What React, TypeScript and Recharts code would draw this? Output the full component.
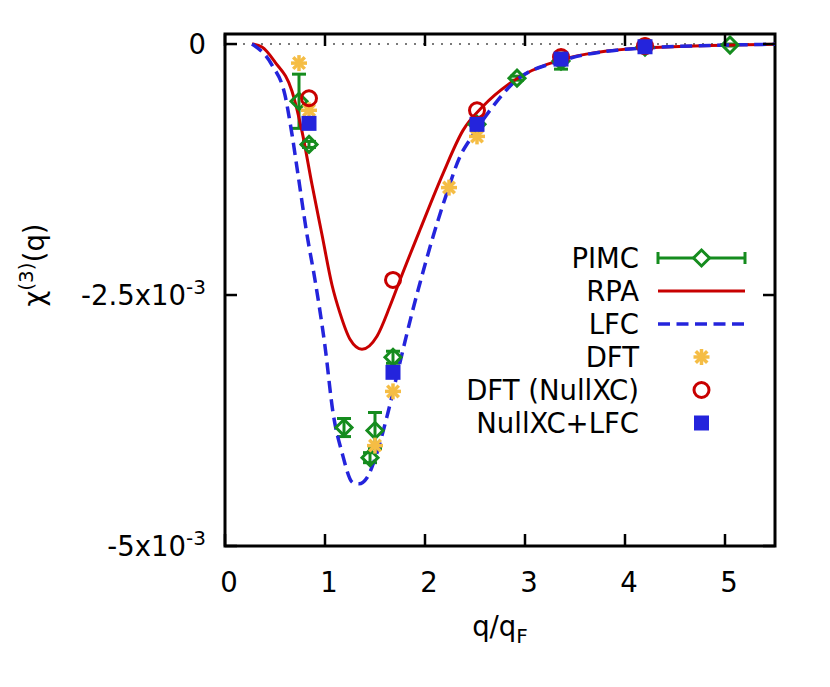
import React from 'react';
import {
  ComposedChart,
  Line,
  Scatter,
  XAxis,
  YAxis,
  ErrorBar,
  ReferenceLine,
  ReferenceArea,
  Legend,
} from 'recharts';

// chi^(3)(q) values are read in units of 1e-3, q in units of q_F
const RPA_Q = [0.27, 0.37, 0.5, 0.67, 0.77, 0.87, 0.97, 1.07, 1.15, 1.25, 1.37, 1.52, 1.65, 1.75, 1.95, 2.18, 2.38, 2.58, 2.85, 3.35, 4.18, 5.5];
const RPA_CHI = [0, -0.03, -0.18, -0.47, -0.87, -1.4, -1.9, -2.4, -2.68, -2.94, -3.04, -2.91, -2.61, -2.35, -1.85, -1.29, -0.86, -0.62, -0.39, -0.16, -0.04, -0.002];

const LFC_Q = [0.27, 0.47, 0.6, 0.67, 0.73, 0.82, 0.9, 1.0, 1.08, 1.17, 1.28, 1.34, 1.42, 1.52, 1.63, 1.75, 1.87, 1.95, 2.08, 2.22, 2.35, 2.45, 2.65, 2.88, 3.35, 4.18, 5.5];
const LFC_CHI = [0, -0.21, -0.51, -0.9, -1.3, -1.9, -2.35, -3.01, -3.67, -4.07, -4.37, -4.38, -4.32, -4.07, -3.67, -3.17, -2.68, -2.38, -1.92, -1.48, -1.12, -0.95, -0.66, -0.39, -0.17, -0.04, -0.002];

const PIMC_Q = [0.74, 0.84, 1.19, 1.45, 1.5, 1.68, 2.52, 2.92, 3.36, 4.2, 5.05];
const PIMC_CHI = [-0.57, -1.0, -3.82, -4.12, -3.85, -3.12, -0.8, -0.34, -0.17, -0.03, -0.01];
const PIMC_ERR = [0.27, 0.03, 0.09, 0.05, 0.18, 0.06, 0.03, 0.02, 0.08, 0.02, 0.01];

const DFT_Q = [0.74, 0.84, 1.5, 1.68, 2.24, 2.52, 3.36, 4.2];
const DFT_CHI = [-0.19, -0.66, -4.0, -3.46, -1.43, -0.92, -0.13, -0.01];

const NULLXC_Q = [0.84, 1.68, 2.52, 3.36, 4.2];
const NULLXC_CHI = [-0.54, -2.35, -0.66, -0.13, -0.02];

const NULLXC_LFC_Q = [0.84, 1.68, 2.52, 3.36, 4.2];
const NULLXC_LFC_CHI = [-0.79, -3.27, -0.8, -0.15, -0.027];

const X_TICKS = [0, 1, 2, 3, 4, 5];
const Y_TICKS = [0, -0.0025, -0.005];
const Y_TICK_LABELS = [['0', ''], ['-2.5x10', '-3'], ['-5x10', '-3']];

const SCALE = 1e-3;
const rows = (q: number[], v: number[], err?: number[]) =>
  q.map((x, i) => ({ q: x, v: v[i] * SCALE, err: err ? err[i] * SCALE : 0 }));

const W = 830;
const H = 687;
const PLOT = { left: 225, right: 775, top: 34, bottom: 546 };
const FONT = '"DejaVu Sans", Verdana, sans-serif';
const FS = 27.5;
const TICK_LEN = 12;

const GREEN = '#158c1e';
const RED = '#c80000';
const BLUE = '#2424dc';
const ORANGE = '#f5bd45';

const Diamond = ({ cx, cy }: any) => (
  <path
    d={`M${cx},${cy - 8} L${cx + 8},${cy} L${cx},${cy + 8} L${cx - 8},${cy} Z`}
    fill="none"
    stroke={GREEN}
    strokeWidth={3}
  />
);

const Star = ({ cx, cy }: any) => {
  const r = 8;
  const d = r * 0.72;
  return (
    <g stroke={ORANGE} strokeWidth={3.5}>
      <line x1={cx - r} y1={cy} x2={cx + r} y2={cy} />
      <line x1={cx} y1={cy - r} x2={cx} y2={cy + r} />
      <line x1={cx - d} y1={cy - d} x2={cx + d} y2={cy + d} />
      <line x1={cx - d} y1={cy + d} x2={cx + d} y2={cy - d} />
    </g>
  );
};

const Circle = ({ cx, cy }: any) => (
  <circle cx={cx} cy={cy} r={7.5} fill="none" stroke={RED} strokeWidth={3} />
);

const Square = ({ cx, cy }: any) => (
  <rect x={cx - 7.5} y={cy - 7.5} width={15} height={15} fill={BLUE} />
);

const XTick = ({ x, payload }: any) => (
  <g>
    <line x1={x} y1={PLOT.bottom} x2={x} y2={PLOT.bottom - TICK_LEN} stroke="#000" strokeWidth={2.5} />
    <line x1={x} y1={PLOT.top} x2={x} y2={PLOT.top + TICK_LEN} stroke="#000" strokeWidth={2.5} />
    <text x={x + 4} y={592} textAnchor="middle" fontFamily={FONT} fontSize={FS} fill="#000">
      {payload.value}
    </text>
  </g>
);

const YTick = ({ y, payload }: any) => {
  const idx = Y_TICKS.indexOf(payload.value);
  const [base, sup] = Y_TICK_LABELS[idx] || [String(payload.value), ''];
  return (
    <g>
      <line x1={PLOT.left} y1={y} x2={PLOT.left + TICK_LEN} y2={y} stroke="#000" strokeWidth={2.5} />
      <line x1={PLOT.right} y1={y} x2={PLOT.right - TICK_LEN} y2={y} stroke="#000" strokeWidth={2.5} />
      <text x={206} y={y + 10} textAnchor="end" fontFamily={FONT} fontSize={FS} fill="#000">
        <tspan>{base}</tspan>
        {sup && (
          <tspan dy={-11} fontSize={20}>
            {sup}
          </tspan>
        )}
      </text>
    </g>
  );
};

const XTitle = () => (
  <text x={500} y={636} textAnchor="middle" fontFamily={FONT} fontSize={FS} fill="#000">
    <tspan>q/q</tspan>
    <tspan dy={7} fontSize={20}>F</tspan>
  </text>
);

const YTitle = () => (
  <text
    transform="translate(44, 265) rotate(-90)"
    textAnchor="middle"
    fontFamily={FONT}
    fontSize={FS}
    fill="#000"
  >
    <tspan>χ</tspan>
    <tspan dy={-11} fontSize={20}>(3)</tspan>
    <tspan dy={11}>(q)</tspan>
  </text>
);

const LEGEND_ITEMS = ['PIMC', 'RPA', 'LFC', 'DFT', 'DFT (NullXC)', 'NullXC+LFC'];
const LEG = { left: 440, top: 235, textRight: 199, symL: 218, symR: 305, row0: 23, rowH: 33 };

const LegendSymbol = ({ i, y }: { i: number; y: number }) => {
  const mid = (LEG.symL + LEG.symR) / 2;
  switch (i) {
    case 0:
      return (
        <g stroke={GREEN} strokeWidth={3}>
          <line x1={LEG.symL} y1={y} x2={LEG.symR} y2={y} />
          <line x1={LEG.symL} y1={y - 6} x2={LEG.symL} y2={y + 6} />
          <line x1={LEG.symR} y1={y - 6} x2={LEG.symR} y2={y + 6} />
          <path d={`M${mid},${y - 8} L${mid + 8},${y} L${mid},${y + 8} L${mid - 8},${y} Z`} fill="#fff" />
        </g>
      );
    case 1:
      return <line x1={LEG.symL} y1={y} x2={LEG.symR} y2={y} stroke={RED} strokeWidth={3} />;
    case 2:
      return (
        <line x1={LEG.symL} y1={y} x2={LEG.symR} y2={y} stroke={BLUE} strokeWidth={3.5} strokeDasharray="12 6.5" />
      );
    case 3:
      return <Star cx={mid} cy={y} />;
    case 4:
      return <Circle cx={mid} cy={y} />;
    default:
      return <Square cx={mid} cy={y} />;
  }
};

const LegendBox = () => (
  <svg width={330} height={210} style={{ overflow: 'visible', display: 'block' }}>
    {LEGEND_ITEMS.map((name, i) => {
      const y = LEG.row0 + i * LEG.rowH;
      return (
        <g key={name}>
          <text x={LEG.textRight} y={y + 10} textAnchor="end" fontFamily={FONT} fontSize={FS} fill="#000">
            {name}
          </text>
          <LegendSymbol i={i} y={y} />
        </g>
      );
    })}
  </svg>
);

export default function App() {
  return (
    <div style={{ position: 'absolute', left: 0, top: 0, width: W, height: H, background: '#fff' }}>
      <ComposedChart
        width={W}
        height={H}
        margin={{ top: PLOT.top, right: W - PLOT.right, left: PLOT.left - 60, bottom: H - PLOT.bottom - 30 }}
      >
        <XAxis
          dataKey="q"
          type="number"
          domain={[0, 5.5]}
          ticks={X_TICKS}
          allowDataOverflow
          axisLine={false}
          tickLine={false}
          height={30}
          tick={<XTick />}
          label={<XTitle />}
        />
        <YAxis
          type="number"
          domain={[-0.005, 0.0001]}
          ticks={Y_TICKS}
          allowDataOverflow
          axisLine={false}
          tickLine={false}
          width={60}
          tick={<YTick />}
          label={<YTitle />}
        />
        <ReferenceLine y={0} stroke="#7a7a7a" strokeWidth={2} strokeDasharray="2 7" />

        <Scatter data={rows(PIMC_Q, PIMC_CHI, PIMC_ERR)} dataKey="v" shape={<Diamond />} isAnimationActive={false}>
          <ErrorBar dataKey="err" direction="y" width={7} stroke={GREEN} strokeWidth={3} />
        </Scatter>
        <Line
          data={rows(RPA_Q, RPA_CHI)}
          dataKey="v"
          type="monotone"
          stroke={RED}
          strokeWidth={3}
          dot={false}
          activeDot={false}
          isAnimationActive={false}
        />
        <Line
          data={rows(LFC_Q, LFC_CHI)}
          dataKey="v"
          type="monotone"
          stroke={BLUE}
          strokeWidth={3.5}
          strokeDasharray="12 6.5"
          dot={false}
          activeDot={false}
          isAnimationActive={false}
        />
        <Scatter data={rows(DFT_Q, DFT_CHI)} dataKey="v" shape={<Star />} isAnimationActive={false} />
        <Scatter data={rows(NULLXC_Q, NULLXC_CHI)} dataKey="v" shape={<Circle />} isAnimationActive={false} />
        <Scatter data={rows(NULLXC_LFC_Q, NULLXC_LFC_CHI)} dataKey="v" shape={<Square />} isAnimationActive={false} />

        <ReferenceArea x1={0} x2={5.5} y1={-0.005} y2={0.0001} fill="none" stroke="#000" strokeWidth={3} />
        <Legend
          layout="vertical"
          align="center"
          verticalAlign="middle"
          content={<LegendBox />}
          wrapperStyle={{ left: LEG.left, top: LEG.top, width: 330, height: 210 }}
        />
      </ComposedChart>
    </div>
  );
}
